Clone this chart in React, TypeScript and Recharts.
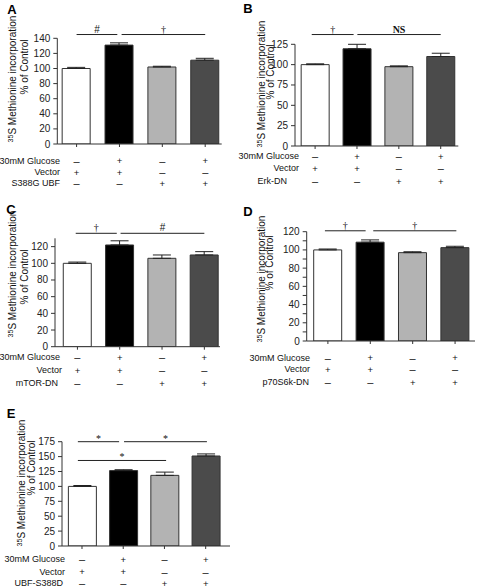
import { Bar, BarChart, Cell, ErrorBar, ReferenceLine, XAxis, YAxis } from 'recharts'

// treatment pattern shared by every panel (bar order left to right)
const glucoseSigns = ['–', '+', '–', '+']
const vectorSigns = ['+', '+', '–', '–']
const mutantSigns = ['–', '–', '+', '+']
const barColors = ['#ffffff', '#000000', '#b3b3b3', '#4b4b4b']

const aMeans = [100, 131, 102, 111]
const aErrors = [1.5, 3, 1, 2.5]
const aTicks = [0, 20, 40, 60, 80, 100, 120, 140]

const bMeans = [100, 119.5, 97.5, 110]
const bErrors = [1, 5.5, 1, 4]
const bTicks = [0, 25, 50, 75, 100, 125]

const cMeans = [100, 122, 106, 110]
const cErrors = [1.5, 5, 4, 4]
const cTicks = [0, 20, 40, 60, 80, 100, 120]

const dMeans = [100, 108.5, 97, 102.5]
const dErrors = [1, 2.5, 1, 1.5]
const dTicks = [0, 10, 20, 30, 40, 50, 60, 70, 80, 90, 100, 110, 120]

const eMeans = [100, 126.5, 118.5, 151]
const eErrors = [1.5, 1.5, 5.5, 3.5]
const eTicks = [0, 25, 50, 75, 100, 125, 150, 175]

const aSig = [
  { from: 0, to: 0.95, y: 145, mark: '#' },
  { from: 1.05, to: 3, y: 145, mark: '†' },
]
const bSig = [
  { from: -0.08, to: 0.92, y: 137, mark: '†' },
  { from: 1.01, to: 3, y: 137, mark: 'NS' },
]
const cSig = [
  { from: -0.04, to: 0.93, y: 136, mark: '†' },
  { from: 1.02, to: 3, y: 136, mark: '#' },
]
const dSig = [
  { from: -0.07, to: 0.89, y: 121, mark: '†' },
  { from: 1.07, to: 3.03, y: 121, mark: '†' },
]
const eSig = [
  { from: -0.1, to: 0.9, y: 175, mark: '*' },
  { from: 1.02, to: 3.03, y: 175, mark: '*' },
  { from: -0.1, to: 2.04, y: 143.5, mark: '*' },
]

const SANS = '"Liberation Sans", Arial, sans-serif'
const SERIF = '"Liberation Serif", "Times New Roman", serif'

type Sig = { from: number; to: number; y: number; mark: string }

type Layout = {
  left: number
  top: number
  width: number
  height: number
  margin: { top: number; right: number; bottom: number; left: number }
  xHeight: number
  rowY: number[]
  labelRight: number[]
  titles: number[][]
  letter: number[]
  xDomain: [number, number]
  yDomain: [number, number]
}

type PanelProps = {
  letter: string
  treatment: string
  means: number[]
  errors: number[]
  ticks: number[]
  sig: Sig[]
  layout: Layout
  minorTicks?: boolean
}

// draws the +/− table under each bar, x comes from the axis scale
function SignTick(props: any) {
  const { x, payload, rowY, top } = props
  const i = payload.value as number
  const rows = [glucoseSigns, vectorSigns, mutantSigns]
  return (
    <g>
      {rows.map((row, r) => {
        const s = row[i]
        return (
          <text
            key={r}
            x={x}
            y={rowY[r] - top}
            textAnchor="middle"
            dominantBaseline="central"
            fontFamily={SANS}
            fontSize={s === '+' ? 9.5 : 11}
            fill="#111"
          >
            {s}
          </text>
        )
      })}
    </g>
  )
}

function ValueTick(props: any) {
  const { x, y, payload, minor } = props
  const v = payload.value as number
  if (minor && v % 20 !== 0) return <g />
  return (
    <text x={x} y={y} textAnchor="end" dominantBaseline="central" fontFamily={SANS} fontSize={10} fill="#222">
      {v}
    </text>
  )
}

function Panel({ letter, treatment, means, errors, ticks, sig, layout, minorTicks }: PanelProps) {
  const data = means.map((m, i) => ({ x: i, mean: m, err: [0, errors[i]] }))
  const rowLabels = ['30mM Glucose', 'Vector', treatment]

  return (
    <>
      <div
        style={{
          position: 'absolute',
          left: layout.letter[0],
          top: layout.letter[1],
          transform: 'translate(-50%,-50%)',
          fontFamily: SANS,
          fontWeight: 700,
          fontSize: 13,
          lineHeight: 1,
        }}
      >
        {letter}
      </div>
      <div
        style={{
          position: 'absolute',
          left: layout.titles[0][0],
          top: layout.titles[0][1],
          transform: 'translate(-50%,-50%) rotate(-90deg)',
          whiteSpace: 'nowrap',
          fontFamily: SANS,
          fontSize: 10,
          lineHeight: 1,
          color: '#111',
        }}
      >
        <span style={{ fontSize: 7, position: 'relative', top: -3 }}>35</span>S Methionine incorporation
      </div>
      <div
        style={{
          position: 'absolute',
          left: layout.titles[1][0],
          top: layout.titles[1][1],
          transform: 'translate(-50%,-50%) rotate(-90deg)',
          whiteSpace: 'nowrap',
          fontFamily: SANS,
          fontSize: 10,
          lineHeight: 1,
          color: '#111',
        }}
      >
        % of Control
      </div>
      {rowLabels.map((t, r) => (
        <div
          key={t}
          style={{
            position: 'absolute',
            left: layout.labelRight[r] - 100,
            width: 100,
            top: layout.rowY[r],
            transform: 'translateY(-50%)',
            textAlign: 'right',
            whiteSpace: 'nowrap',
            fontFamily: SANS,
            fontSize: 9,
            lineHeight: 1,
            color: '#111',
          }}
        >
          {t}
        </div>
      ))}
      <div style={{ position: 'absolute', left: layout.left, top: layout.top }}>
        <BarChart width={layout.width} height={layout.height} data={data} margin={layout.margin}>
          <XAxis
            dataKey="x"
            type="number"
            domain={layout.xDomain}
            allowDataOverflow
            ticks={[0, 1, 2, 3]}
            interval={0}
            height={layout.xHeight}
            tickSize={3}
            tickMargin={0}
            axisLine={{ stroke: '#333' }}
            tickLine={{ stroke: '#333' }}
            tick={(p: any) => <SignTick {...p} rowY={layout.rowY} top={layout.top} />}
          />
          <YAxis
            type="number"
            domain={layout.yDomain}
            allowDataOverflow
            ticks={ticks}
            interval={0}
            width={30}
            tickSize={4}
            tickMargin={3}
            axisLine={{ stroke: '#333' }}
            tickLine={{ stroke: '#333' }}
            tick={(p: any) => <ValueTick {...p} minor={minorTicks} />}
          />
          {sig.map((s, k) => (
            <ReferenceLine
              key={k}
              ifOverflow="visible"
              segment={[
                { x: s.from, y: s.y },
                { x: s.to, y: s.y },
              ]}
              stroke="#222"
              strokeWidth={1}
              label={{
                value: s.mark,
                position: 'top',
                offset: s.mark === '*' ? 0 : 2,
                fill: '#111',
                fontSize: 10,
                fontWeight: s.mark === 'NS' ? 700 : 400,
                fontFamily: s.mark === '#' ? SANS : SERIF,
              }}
            />
          ))}
          <Bar dataKey="mean" barSize={28} stroke="#333" strokeWidth={1} isAnimationActive={false}>
            {data.map((d) => (
              <Cell key={d.x} fill={barColors[d.x]} />
            ))}
            <ErrorBar dataKey="err" width={9} stroke="#222" strokeWidth={1} isAnimationActive={false} />
          </Bar>
        </BarChart>
      </div>
    </>
  )
}

const layoutA: Layout = {
  left: 0, top: 0, width: 240, height: 195,
  margin: { top: 38.3, right: 18.3, bottom: 6, left: 27.3 },
  xHeight: 45,
  rowY: [160.7, 172, 183.3],
  labelRight: [60, 60, 60],
  titles: [[13, 79], [25, 67]],
  letter: [12, 8.5],
  xDomain: [-0.45, 3.385],
  yDomain: [0, 140],
}

const layoutB: Layout = {
  left: 237, top: 0, width: 240, height: 195,
  margin: { top: 44.3, right: 18.7, bottom: 4, left: 28 },
  xHeight: 45,
  rowY: [156, 168.3, 181],
  labelRight: [299, 299, 287],
  titles: [[262, 83.5], [271, 72]],
  letter: [248, 7.5],
  xDomain: [-0.48, 3.42],
  yDomain: [0, 125],
}

const layoutC: Layout = {
  left: 0, top: 195, width: 240, height: 200,
  margin: { top: 43.3, right: 20, bottom: 3.3, left: 25 },
  xHeight: 45,
  rowY: [357.3, 370, 383.3],
  labelRight: [60, 62, 58],
  titles: [[13, 274], [25, 277]],
  letter: [11, 209],
  xDomain: [-0.53, 3.37],
  yDomain: [0, 130],
}

const layoutD: Layout = {
  left: 237, top: 195, width: 240, height: 200,
  margin: { top: 36.7, right: 2, bottom: 9, left: 39.7 },
  xHeight: 45,
  rowY: [357.7, 369.3, 382.3],
  labelRight: [310, 310, 309],
  titles: [[262, 279], [270, 263]],
  letter: [248, 211],
  xDomain: [-0.5, 3.47],
  yDomain: [0, 120],
}

const layoutE: Layout = {
  left: 0, top: 395, width: 240, height: 193,
  margin: { top: 46.7, right: 10, bottom: 0, left: 32 },
  xHeight: 42,
  rowY: [559.3, 571.5, 583.3],
  labelRight: [65, 65, 63],
  titles: [[22, 483], [32, 468]],
  letter: [11, 412.5],
  xDomain: [-0.485, 3.59],
  yDomain: [0, 175],
}

export default function App() {
  return (
    <div style={{ position: 'absolute', left: 0, top: 0, width: 477, height: 588, background: '#fff', overflow: 'hidden' }}>
      <Panel letter="A" treatment="S388G UBF" means={aMeans} errors={aErrors} ticks={aTicks} sig={aSig} layout={layoutA} />
      <Panel letter="B" treatment="Erk-DN" means={bMeans} errors={bErrors} ticks={bTicks} sig={bSig} layout={layoutB} />
      <Panel letter="C" treatment="mTOR-DN" means={cMeans} errors={cErrors} ticks={cTicks} sig={cSig} layout={layoutC} />
      <Panel letter="D" treatment="p70S6k-DN" means={dMeans} errors={dErrors} ticks={dTicks} sig={dSig} layout={layoutD} minorTicks />
      <Panel letter="E" treatment="UBF-S388D" means={eMeans} errors={eErrors} ticks={eTicks} sig={eSig} layout={layoutE} />
    </div>
  )
}
